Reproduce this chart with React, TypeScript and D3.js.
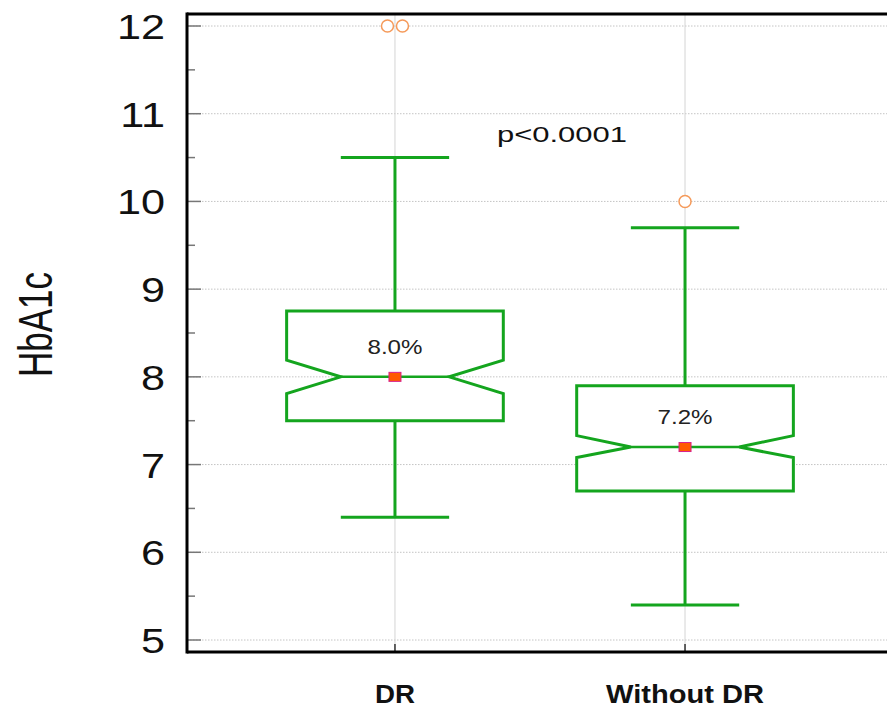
import React from "react";
import * as d3 from "d3";

const categories = ["DR", "Without DR"];
const q1 = [7.5, 6.7];
const medians = [8.0, 7.2];
const q3 = [8.75, 7.9];
const notchLow = [7.81, 7.08];
const notchHigh = [8.19, 7.33];
const whiskerLow = [6.4, 5.4];
const whiskerHigh = [10.5, 9.7];
const outliers = [[12, 12], [10]];
const medianLabels = ["8.0%", "7.2%"];
const yTicks = [5, 6, 7, 8, 9, 10, 11, 12];
const yMinorTicks = [5.5, 6.5, 7.5, 8.5, 9.5, 10.5, 11.5];
const pText = "p<0.0001";
const yTitle = "HbA1c";

const W = 887;
const H = 711;
const left = 187;
const top = 14;
const bottom = 652;
const right = 893;

const GREEN = "#14a51e";
const FONT = "Arial, 'Liberation Sans', Helvetica, sans-serif";

export default function App() {
  const y = d3.scaleLinear().domain([5, 12]).range([640, 26]);
  const x = d3.scalePoint<string>().domain(categories).range([left, right]).padding(0.717);
  const step = x.step();
  const boxW = step * 0.747;
  const notchW = boxW / 2;
  const capW = boxW / 2;

  return (
    <svg width={W} height={H} style={{ position: "absolute", left: 0, top: 0, background: "#fff" }}>
      <rect x={0} y={0} width={W} height={H} fill="#fff" />
      {/* horizontal dotted gridlines */}
      {yTicks.map((t) => (
        <line key={"g" + t} x1={left} x2={W} y1={y(t)} y2={y(t)} stroke="#c4c4c4" strokeWidth={1} strokeDasharray="1.5,1.5" />
      ))}
      {/* vertical category gridlines */}
      {categories.map((c) => (
        <line key={"vg" + c} x1={x(c)} x2={x(c)} y1={top} y2={bottom} stroke="#d4d4d4" strokeWidth={1} />
      ))}
      {/* left axis ticks */}
      {yTicks.map((t) => (
        <line key={"t" + t} x1={left} x2={left + 14} y1={y(t)} y2={y(t)} stroke="#777" strokeWidth={1.5} />
      ))}
      {yMinorTicks.map((t) => (
        <line key={"mt" + t} x1={left} x2={left + 8} y1={y(t)} y2={y(t)} stroke="#777" strokeWidth={1.5} />
      ))}
      {/* bottom ticks */}
      {categories.map((c) => (
        <line key={"bt" + c} x1={x(c)} x2={x(c)} y1={bottom} y2={bottom - 8} stroke="#333" strokeWidth={1.5} />
      ))}
      {/* y tick labels */}
      {yTicks.map((t) => (
        <g key={"tl" + t} transform={`translate(165,${y(t) + 13}) scale(1.2,1)`}>
          <text x={0} y={0} textAnchor="end" fontSize={36} fontFamily={FONT} fill="#111">
            {t}
          </text>
        </g>
      ))}
      {/* y title */}
      <g transform={`translate(52,${(272 + 377) / 2}) scale(1.35,1) rotate(-90)`}>
        <text x={0} y={0} textAnchor="middle" fontSize={35} fontFamily={FONT} fill="#111">
          {yTitle}
        </text>
      </g>
      {/* boxes */}
      {categories.map((c, i) => {
        const cx = x(c) as number;
        const bl = cx - boxW / 2;
        const br = cx + boxW / 2;
        const nl = cx - notchW / 2;
        const nr = cx + notchW / 2;
        const path = d3.path();
        path.moveTo(bl, y(q3[i]));
        path.lineTo(br, y(q3[i]));
        path.lineTo(br, y(notchHigh[i]));
        path.lineTo(nr, y(medians[i]));
        path.lineTo(br, y(notchLow[i]));
        path.lineTo(br, y(q1[i]));
        path.lineTo(bl, y(q1[i]));
        path.lineTo(bl, y(notchLow[i]));
        path.lineTo(nl, y(medians[i]));
        path.lineTo(bl, y(notchHigh[i]));
        path.closePath();
        return (
          <g key={"box" + c}>
            <line x1={cx} x2={cx} y1={y(q3[i])} y2={y(whiskerHigh[i])} stroke={GREEN} strokeWidth={3} />
            <line x1={cx} x2={cx} y1={y(q1[i])} y2={y(whiskerLow[i])} stroke={GREEN} strokeWidth={3} />
            <line x1={cx - capW / 2} x2={cx + capW / 2} y1={y(whiskerHigh[i])} y2={y(whiskerHigh[i])} stroke={GREEN} strokeWidth={3} />
            <line x1={cx - capW / 2} x2={cx + capW / 2} y1={y(whiskerLow[i])} y2={y(whiskerLow[i])} stroke={GREEN} strokeWidth={3} />
            <path d={path.toString()} fill="#fff" stroke={GREEN} strokeWidth={3} strokeLinejoin="miter" />
            <line x1={nl} x2={nr} y1={y(medians[i])} y2={y(medians[i])} stroke={GREEN} strokeWidth={2.5} />
            <rect x={cx - 6} y={y(medians[i]) - 4.5} width={12} height={9} fill="#ff5a00" stroke="#d8208c" strokeWidth={1} />
            <text x={cx} y={y(medians[i]) - 23} textAnchor="middle" fontSize={21} fontFamily={FONT} fill="#222" textLength={55} lengthAdjust="spacingAndGlyphs">
              {medianLabels[i]}
            </text>
            {outliers[i].map((o, j) => (
              <circle key={j} cx={cx + (j - (outliers[i].length - 1) / 2) * 15} cy={y(o)} r={6} fill="#fff" stroke="#f59a5a" strokeWidth={1.5} />
            ))}
          </g>
        );
      })}
      {/* p-value */}
      <text x={497} y={142} fontSize={22} fontFamily={FONT} fill="#111" textLength={130} lengthAdjust="spacingAndGlyphs">
        {pText}
      </text>
      {/* x labels */}
      {categories.map((c) => (
        <text key={"xl" + c} x={x(c)} y={703} textAnchor="middle" fontSize={25} fontWeight="bold" fontFamily={FONT} fill="#111" textLength={c.length === 2 ? 40 : 158} lengthAdjust="spacingAndGlyphs">
          {c}
        </text>
      ))}
      {/* frame */}
      <line x1={left} x2={W + 5} y1={top} y2={top} stroke="#000" strokeWidth={3} />
      <line x1={left} x2={W + 5} y1={bottom} y2={bottom} stroke="#000" strokeWidth={3} />
      <line x1={left} x2={left} y1={top - 1.5} y2={bottom + 1.5} stroke="#000" strokeWidth={3} />
    </svg>
  );
}
